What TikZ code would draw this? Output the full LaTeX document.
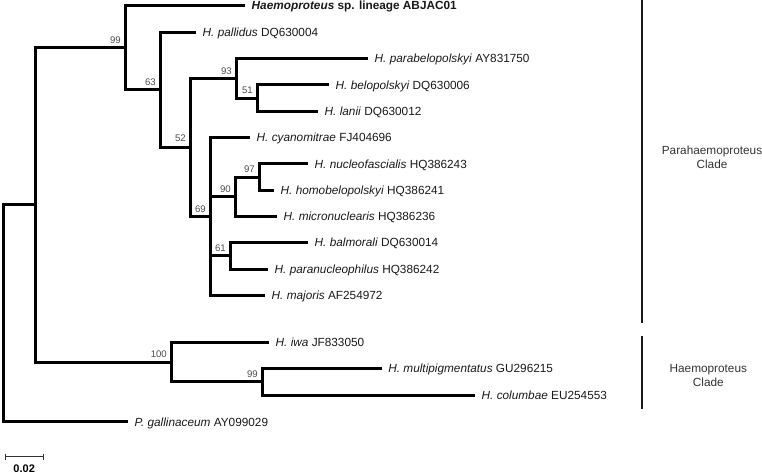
\documentclass[tikz,border=0pt]{standalone}
\usepackage{fontspec}
\setmainfont{Liberation Sans}
\begin{document}
\begin{tikzpicture}[x=1pt,y=-1pt,
  br/.style={line width=3pt, line join=miter, line cap=butt, black},
  taxon/.style={anchor=base west, inner sep=0pt, font=\fontsize{11.8}{14}\selectfont, text=black!90, xshift=6.5pt, yshift=-4.2pt},
  boot/.style={anchor=base east, inner sep=0pt, font=\fontsize{9.6}{11}\selectfont, text=black!70, xshift=-4pt, yshift=4.3pt},
  cladebar/.style={line width=2pt, black!90},
  cladelabel/.style={align=center, inner sep=0pt, font=\fontsize{11.8}{14}\selectfont, text=black!80},
  sbar/.style={line width=1pt, black!80}]
\useasboundingbox (0,0) rectangle (762,474);
% internal nodes
\coordinate (root) at (3,313);
\coordinate (ing) at (35,204.8);
\coordinate (n99) at (125,47.7);
\coordinate (n63) at (160,89.8);
\coordinate (n52) at (190,147.3);
\coordinate (n93) at (236,78.3);
\coordinate (n51) at (257,98);
\coordinate (n69) at (210,216.4);
\coordinate (n90) at (235,196.7);
\coordinate (n97) at (259,177);
\coordinate (n61) at (230,255.8);
\coordinate (n100) at (171,362);
\coordinate (n99b) at (262,381.9);
% tips
\coordinate (t1) at (245,5.5);
\coordinate (t2) at (196,32.3);
\coordinate (t3) at (368,58.6);
\coordinate (t4) at (329,84.9);
\coordinate (t5) at (318,111.2);
\coordinate (t6) at (250,137.5);
\coordinate (t7) at (308,163.8);
\coordinate (t8) at (274,190.1);
\coordinate (t9) at (277,216.4);
\coordinate (t10) at (308,242.7);
\coordinate (t11) at (268,269);
\coordinate (t12) at (265,295.3);
\coordinate (t13) at (269,342);
\coordinate (t14) at (381.7,368.6);
\coordinate (t15) at (475,395.2);
\coordinate (t16) at (128,421.8);
% branches
\draw[br] (root) |- (ing);
\draw[br] (root) |- (t16);
\draw[br] (ing) |- (n99);
\draw[br] (ing) |- (n100);
\draw[br] (n99) |- (t1);
\draw[br] (n99) |- (n63);
\draw[br] (n63) |- (t2);
\draw[br] (n63) |- (n52);
\draw[br] (n52) |- (n93);
\draw[br] (n52) |- (n69);
\draw[br] (n93) |- (t3);
\draw[br] (n93) |- (n51);
\draw[br] (n51) |- (t4);
\draw[br] (n51) |- (t5);
\draw[br] (n69) |- (t6);
\draw[br] (n69) |- (n90);
\draw[br] (n69) |- (n61);
\draw[br] (n69) |- (t12);
\draw[br] (n90) |- (n97);
\draw[br] (n90) |- (t9);
\draw[br] (n97) |- (t7);
\draw[br] (n97) |- (t8);
\draw[br] (n61) |- (t10);
\draw[br] (n61) |- (t11);
\draw[br] (n100) |- (t13);
\draw[br] (n100) |- (n99b);
\draw[br] (n99b) |- (t14);
\draw[br] (n99b) |- (t15);
% taxon labels
\node[taxon] (l1) at (t1) {\textbf{\textit{Haemoproteus}} \textbf{sp. lineage ABJAC01}};
\node[taxon] (l2) at (t2) {\textit{H. pallidus} DQ630004};
\node[taxon] (l3) at (t3) {\textit{H. parabelopolskyi} AY831750};
\node[taxon] (l4) at (t4) {\textit{H. belopolskyi} DQ630006};
\node[taxon] (l5) at (t5) {\textit{H. lanii} DQ630012};
\node[taxon] (l6) at (t6) {\textit{H. cyanomitrae} FJ404696};
\node[taxon] (l7) at (t7) {\textit{H. nucleofascialis} HQ386243};
\node[taxon] (l8) at (t8) {\textit{H. homobelopolskyi} HQ386241};
\node[taxon] (l9) at (t9) {\textit{H. micronuclearis} HQ386236};
\node[taxon] (l10) at (t10) {\textit{H. balmorali} DQ630014};
\node[taxon] (l11) at (t11) {\textit{H. paranucleophilus} HQ386242};
\node[taxon] (l12) at (t12) {\textit{H. majoris} AF254972};
\node[taxon] (l13) at (t13) {\textit{H. iwa} JF833050};
\node[taxon] (l14) at (t14) {\textit{H. multipigmentatus} GU296215};
\node[taxon] (l15) at (t15) {\textit{H. columbae} EU254553};
\node[taxon] (l16) at (t16) {\textit{P. gallinaceum} AY099029};
% bootstrap values
\node[boot] (b99) at (n99) {99};
\node[boot] (b63) at (n63) {63};
\node[boot,yshift=2pt] (b52) at (n52) {52};
\node[boot] (b93) at (n93) {93};
\node[boot] (b51) at (n51) {51};
\node[boot] (b69) at (n69) {69};
\node[boot] (b90) at (n90) {90};
\node[boot] (b97) at (n97) {97};
\node[boot] (b61) at (n61) {61};
\node[boot] (b100) at (n100) {100};
\node[boot] (b99b) at (n99b) {99};
% clade bars
\coordinate (pa1) at (641.7,0);
\coordinate (pa2) at (641.7,323.3);
\coordinate (ha1) at (641.7,336);
\coordinate (ha2) at (641.7,409.3);
\draw[cladebar] (pa1) -- (pa2);
\draw[cladebar] (ha1) -- (ha2);
\node[cladelabel] (pl) at (712,157) {Parahaemoproteus\\Clade};
\node[cladelabel] (hl) at (708.3,375.5) {Haemoproteus\\Clade};
% scale bar
\coordinate (sb1) at (5,456.7);
\coordinate (sb2) at (43.3,456.7);
\draw[sbar] (sb1) -- (sb2);
\draw[sbar] ([yshift=3pt]sb1) -- ([yshift=-3pt]sb1);
\draw[sbar] ([yshift=3pt]sb2) -- ([yshift=-3pt]sb2);
\node[anchor=base, inner sep=0pt, font=\fontsize{11}{13}\selectfont\bfseries] (sbl) at (24.2,472) {0.02};
\end{tikzpicture}
\end{document}
